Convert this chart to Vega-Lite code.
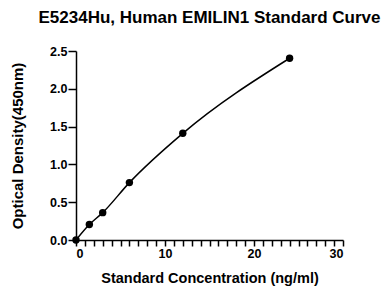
{
  "$schema": "https://vega.github.io/schema/vega-lite/v6.json",
  "autosize": "none",
  "width": 267,
  "height": 189,
  "padding": {"left": 76, "top": 51, "right": 40, "bottom": 49},
  "background": "white",
  "title": {
    "text": "E5234Hu, Human EMILIN1 Standard Curve",
    "font": "Liberation Sans",
    "fontSize": 17,
    "fontWeight": "bold",
    "color": "black",
    "anchor": "middle",
    "offset": 18
  },
  "config": {
    "view": {"stroke": null},
    "axis": {
      "domainColor": "black",
      "domainWidth": 1.5,
      "tickColor": "black",
      "tickWidth": 1.5,
      "labelFont": "Liberation Sans",
      "labelFontWeight": "bold",
      "labelFontSize": 12.5,
      "labelColor": "black",
      "titleFont": "Liberation Sans",
      "titleFontWeight": "bold",
      "titleColor": "black",
      "grid": false
    }
  },
  "data": {
    "values": [
      {"conc": 0, "od": 0.0},
      {"conc": 1.5, "od": 0.204},
      {"conc": 3, "od": 0.362},
      {"conc": 6, "od": 0.759},
      {"conc": 12, "od": 1.411},
      {"conc": 24, "od": 2.404}
    ]
  },
  "encoding": {
    "x": {
      "field": "conc", "type": "quantitative",
      "scale": {"domain": [0, 30], "nice": false},
      "axis": {
        "values": [0,1,2,3,4,5,6,7,8,9,10,11,12,13,14,15,16,17,18,19,20,21,22,23,24,25,26,27,28,29,30],
        "labelExpr": "datum.value % 10 === 0 ? datum.label : ''",
        "labelOverlap": false,
        "tickSize": 6,
        "title": "Standard Concentration (ng/ml)",
        "titleFontSize": 14.5,
        "titlePadding": 12,
        "labelPadding": 1
      }
    },
    "y": {
      "field": "od", "type": "quantitative",
      "scale": {"domain": [0, 2.5], "nice": false},
      "axis": {
        "values": [0, 0.5, 1, 1.5, 2, 2.5],
        "format": ".1f",
        "tickSize": 8,
        "title": "Optical Density(450nm)",
        "titleFontSize": 15,
        "titlePadding": 24,
        "labelPadding": 1
      }
    }
  },
  "layer": [
    {
      "mark": {"type": "line", "interpolate": "monotone", "color": "black", "strokeWidth": 1.5}
    },
    {
      "mark": {"type": "point", "filled": true, "color": "black", "size": 55, "opacity": 1}
    }
  ]
}
